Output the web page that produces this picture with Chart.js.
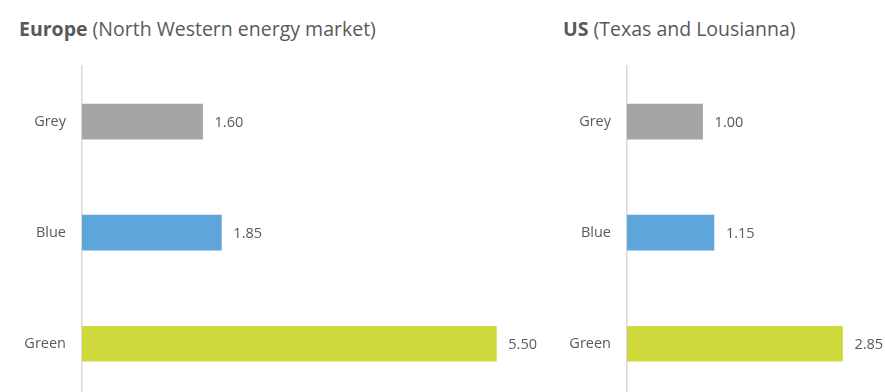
<!DOCTYPE html>
<html><head><meta charset="utf-8">
<script src="https://cdn.jsdelivr.net/npm/chart.js@4"></script>
<style>
html,body{margin:0;padding:0;width:885px;height:392px;overflow:hidden;background:#fff;font-family:"Open Sans",sans-serif;}
.title{position:absolute;top:15px;font-size:19.5px;color:#595959;white-space:nowrap;}
.title b{font-weight:700;}
#c1{position:absolute;left:0;top:0;}
#c2{position:absolute;left:540px;top:0;}
</style></head><body>
<div class="title" style="left:19px"><b>Europe</b> (North Western energy market)</div>
<div class="title" style="left:563px"><b>US</b> (Texas and Lousianna)</div>
<canvas id="c1" width="540" height="424"></canvas>
<canvas id="c2" width="345" height="424"></canvas>
<script>
const categories = ["Grey", "Blue", "Green"];
const europeValues = [1.60, 1.85, 5.50];
const usValues = [1.00, 1.15, 2.85];
const barColors = ["#a5a5a5", "#5ea5db", "#d0d93b"];

const valueLabels = {
  id: 'valueLabels',
  afterDatasetsDraw(chart) {
    const ctx = chart.ctx;
    const meta = chart.getDatasetMeta(0);
    ctx.save();
    ctx.font = '14.5px "Open Sans", sans-serif';
    ctx.fillStyle = '#595959';
    ctx.textBaseline = 'middle';
    ctx.textAlign = 'left';
    meta.data.forEach((bar, i) => {
      const v = chart.data.datasets[0].data[i];
      ctx.fillText(v.toFixed(2), bar.x + 12, bar.y + 1);
    });
    ctx.restore();
  }
};

function makeChart(id, values, xmax, axisWidth, padRight) {
  return new Chart(document.getElementById(id), {
    type: 'bar',
    data: { labels: categories, datasets: [{ data: values, backgroundColor: barColors, barThickness: 35 }] },
    options: {
      indexAxis: 'y',
      responsive: false,
      animation: false,
      layout: { padding: { top: 66, bottom: 2, right: padRight, left: 0 } },
      plugins: { legend: { display: false }, tooltip: { enabled: false } },
      scales: {
        x: { display: false, min: 0, max: xmax, grid: { display: false } },
        y: {
          grid: { display: false, drawTicks: false },
          border: { display: true, color: '#d9d9d9', width: 1.5 },
          ticks: { color: '#595959', font: { family: '"Open Sans", sans-serif', size: 14.5 }, padding: 16 },
          afterFit(scale) { scale.width = axisWidth; }
        }
      }
    },
    plugins: [valueLabels]
  });
}

makeChart('c1', europeValues, 6, 82, 6);
makeChart('c2', usValues, 3.4, 87, 1);
</script>
</body></html>
